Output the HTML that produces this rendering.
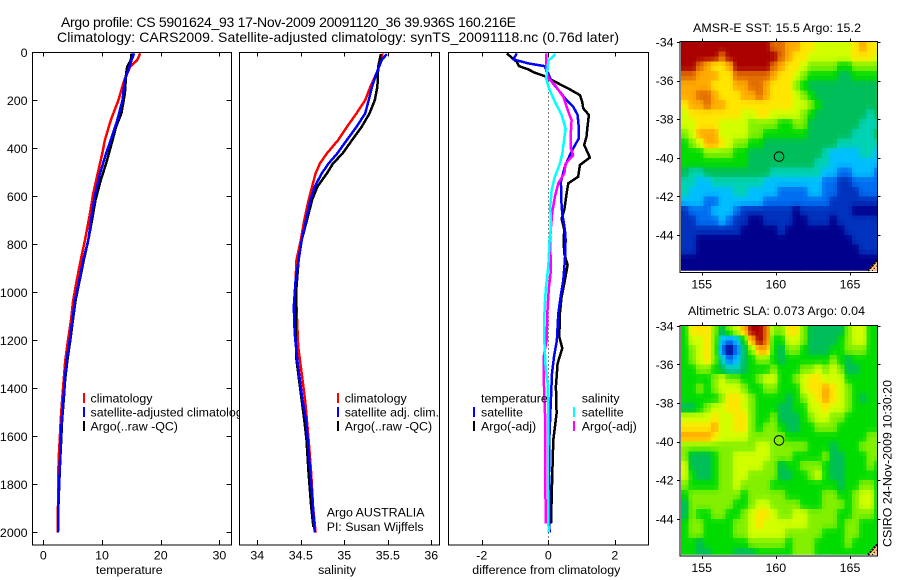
<!DOCTYPE html>
<html lang="en">
<head>
<meta charset="utf-8">
<title>Argo profile 5901624_93</title>
<style>
html,body{margin:0;padding:0;background:#fff;}
svg{display:block;font-family:"Liberation Sans",sans-serif;}
text{fill:#000;font-size:12.4px;}
.title{font-size:14px;}
</style>
</head>
<body>
<svg id="chart" xmlns="http://www.w3.org/2000/svg" width="900" height="580" viewBox="0 0 900 580">
<defs>
<clipPath id="sst-clip"><rect x="681" y="42" width="196.5" height="228.7"/></clipPath>
<clipPath id="sla-clip"><rect x="681" y="326" width="196.5" height="228.7"/></clipPath>
</defs>
<rect x="0" y="0" width="900" height="580" fill="#fff"/>
<text class="title" x="61" y="27" textLength="455">Argo profile: CS 5901624_93 17-Nov-2009 20091120_36 39.936S 160.216E</text>
<text class="title" x="57" y="42" textLength="562">Climatology: CARS2009. Satellite-adjusted climatology: synTS_20091118.nc (0.76d later)</text>
<g id="plots"></g>
<g id="overlay">
<text x="129.3" y="574" text-anchor="middle">temperature</text>
<text x="337" y="574" text-anchor="middle">salinity</text>
<text x="546.3" y="574" text-anchor="middle" textLength="148">difference from climatology</text>

<text x="693" y="32" textLength="168">AMSR-E SST: 15.5 Argo: 15.2</text>
<text x="688" y="315" textLength="177">Altimetric SLA: 0.073 Argo: 0.04</text>
<text transform="translate(891.7,547) rotate(-90)" textLength="167">CSIRO 24-Nov-2009 10:30:20</text>

<text x="326.7" y="516.7">Argo AUSTRALIA</text>
<text x="326.7" y="531">PI: Susan Wijffels</text>
</g>
</svg>
<script>
// ---- temperature panel data (degrees C vs depth in m) ----
const tempTicks = [0, 10, 20, 30];
const depthTicks = [0, 200, 400, 600, 800, 1000, 1200, 1400, 1600, 1800, 2000];
const tempClimDepth = [4, 32, 60, 115, 199, 282, 365, 421, 504, 588, 671, 782, 865, 949, 1032, 1115, 1199, 1282, 1365, 1449, 1532, 1615, 1699, 1782, 1893, 2000];
const tempClimValue = [16.5, 16.0, 14.8, 13.8, 12.8, 11.5, 10.5, 10.05, 9.27, 8.5, 7.95, 7.1, 6.37, 5.7, 5.1, 4.72, 4.2, 3.75, 3.47, 3.2, 2.96, 2.8, 2.6, 2.56, 2.5, 2.45];
const tempSatDepth = [4, 32, 60, 115, 199, 282, 365, 421, 504, 588, 671, 782, 865, 949, 1032, 1115, 1199, 1282, 1365, 1449, 1532, 1615, 1699, 1782, 1893, 2000];
const tempSatValue = [15.45, 15.05, 14.65, 13.9, 13.5, 12.6, 11.5, 10.7, 9.66, 8.86, 8.3, 7.67, 6.8, 6.14, 5.4, 4.95, 4.5, 3.98, 3.64, 3.4, 3.13, 3.0, 2.85, 2.73, 2.56, 2.5];
const tempArgoDepth = [4, 32, 60, 87, 171, 254, 310, 393, 463, 532, 615, 699, 782, 865, 949, 1032, 1115, 1199, 1282, 1365, 1449, 1532, 1615, 1699, 1782, 1893, 1963];
const tempArgoValue = [15.05, 14.9, 14.3, 14.1, 13.9, 13.3, 12.4, 11.5, 10.7, 9.8, 8.9, 8.3, 7.67, 6.9, 6.2, 5.5, 5.05, 4.6, 4.1, 3.72, 3.47, 3.2, 3.05, 2.88, 2.75, 2.58, 2.55];

// ---- salinity panel data (psu vs depth) ----
const salTicks = [34, 34.5, 35, 35.5, 36];
const salClimDepth = [4, 32, 87, 143, 199, 254, 310, 365, 421, 463, 504, 560, 615, 699, 782, 865, 949, 1060, 1227, 1338, 1449, 1532, 1615, 1754, 1893, 2000];
const salClimValue = [35.44, 35.43, 35.37, 35.30, 35.24, 35.14, 35.03, 34.93, 34.80, 34.72, 34.67, 34.63, 34.59, 34.54, 34.50, 34.45, 34.44, 34.45, 34.47, 34.51, 34.55, 34.57, 34.59, 34.62, 34.64, 34.67];
const salSatDepth = [7, 32, 87, 143, 199, 254, 310, 365, 421, 463, 504, 560, 615, 699, 782, 865, 949, 1060, 1171, 1282, 1365, 1449, 1532, 1615, 1754, 1893, 2000];
const salSatValue = [35.49, 35.43, 35.37, 35.32, 35.28, 35.24, 35.14, 35.03, 34.92, 34.82, 34.74, 34.66, 34.61, 34.56, 34.51, 34.475, 34.44, 34.42, 34.43, 34.46, 34.49, 34.52, 34.56, 34.58, 34.61, 34.64, 34.66];
const salArgoDepth = [7, 60, 143, 199, 254, 310, 365, 421, 463, 504, 560, 615, 699, 782, 865, 977, 1171, 1282, 1365, 1449, 1532, 1615, 1754, 1893, 1977];
const salArgoValue = [35.42, 35.39, 35.38, 35.35, 35.29, 35.20, 35.09, 34.98, 34.87, 34.80, 34.69, 34.63, 34.57, 34.51, 34.475, 34.45, 34.44, 34.45, 34.48, 34.51, 34.54, 34.565, 34.59, 34.62, 34.645];

// ---- difference panel data ----
const diffTicks = [-2, 0, 2];
const diffTempArgoDepth = [4, 39, 57, 71, 85, 99, 111, 129, 154, 178, 206, 233, 261, 310, 351, 386, 438, 469, 518, 546, 588, 657, 692, 740, 782, 838, 886, 949, 1018, 1088, 1185, 1233, 1296, 1393, 1504, 1615, 1754, 1963];
const diffTempArgoValue = [-1.25, -0.95, -0.88, -0.60, -0.40, -0.10, 0.05, 0.30, 0.65, 0.95, 1.02, 1.05, 1.22, 1.18, 1.15, 1.08, 1.25, 0.95, 0.90, 0.60, 0.55, 0.48, 0.40, 0.48, 0.46, 0.48, 0.58, 0.50, 0.40, 0.35, 0.33, 0.42, 0.28, 0.23, 0.25, 0.15, 0.12, 0.08];
const diffTempSatDepth = [4, 29, 46, 57, 88, 122, 164, 199, 226, 261, 317, 358, 400, 442, 483, 539, 643, 671, 740, 782, 865, 949, 1018, 1088, 1199, 1268, 1338, 1476, 1615, 1754, 1963, 2000];
const diffTempSatValue = [-0.95, -1.05, -0.60, -0.12, 0, 0.10, 0.35, 0.55, 0.75, 0.88, 0.92, 0.92, 0.75, 0.60, 0.48, 0.38, 0.40, 0.42, 0.50, 0.52, 0.50, 0.45, 0.37, 0.30, 0.26, 0.17, 0.11, 0.07, 0.03, 0.02, 0.03, 0.04];
const diffSalArgoDepth = [4, 74, 108, 136, 185, 247, 282, 351, 400, 428, 463, 504, 546, 601, 664, 726, 782, 907, 976, 1060, 1199, 1268, 1393, 1504, 1615, 1754, 1963];
const diffSalArgoValue = [-0.07, -0.07, 0, 0.20, 0.45, 0.60, 0.70, 0.67, 0.68, 0.75, 0.52, 0.48, 0.30, 0.20, 0.12, 0.08, 0.05, 0.08, 0.02, -0.02, -0.05, -0.14, -0.13, -0.10, -0.10, -0.10, -0.07];
const diffSalSatDepth = [7, 35, 67, 108, 150, 206, 261, 317, 358, 421, 463, 518, 574, 643, 726, 782, 893, 976, 1060, 1129, 1199, 1310, 1379, 1504, 1643, 1824, 2000];
const diffSalSatValue = [0.22, 0, -0.02, -0.07, 0.02, 0.20, 0.40, 0.52, 0.48, 0.42, 0.35, 0.20, 0.10, 0.06, 0.08, 0.04, 0, -0.07, -0.11, -0.12, -0.12, -0.08, -0.02, 0, -0.01, -0.01, 0.01];

// ---- maps: colour level per 0.5 degree cell, north row first ----
const lonTicks = [155, 160, 165];
const latTicks = [-34, -36, -38, -40, -42, -44];
const profileLon = 160.216;
const profileLat = -39.936;
const sstLevels = [
[12,12,12,12,12,12,12,12,12,12,12,12,11,11,10,10,9,9,8,8,8,8,8,9,10,9,9],
[12,12,12,12,12,11,12,12,12,12,12,12,12,11,10,9,9,8,8,8,8,8,8,9,9,9,8],
[12,12,11,10,9,9,10,12,12,12,12,12,11,10,9,9,8,7,7,7,7,6,6,7,7,7,7],
[11,11,10,10,10,9,9,11,11,11,11,11,10,9,9,8,7,6,6,6,6,5,5,6,6,6,6],
[10,10,10,10,9,9,9,10,10,11,11,10,9,9,9,7,6,5,5,5,5,5,5,5,5,5,5],
[10,10,11,11,10,9,9,9,10,10,11,10,9,9,9,8,7,6,5,5,5,5,5,5,5,5,5],
[9,10,10,11,10,10,9,9,9,9,9,9,9,9,9,8,8,7,6,5,5,5,5,5,5,5,5],
[8,9,9,9,9,9,9,9,8,8,9,9,8,8,8,8,7,6,5,5,5,5,5,5,5,4,5],
[8,8,9,9,9,8,8,8,8,7,7,7,7,6,6,7,7,5,5,5,5,5,5,5,4,4,4],
[7,8,10,10,10,8,8,8,8,7,7,6,6,6,6,6,6,5,5,5,5,5,5,4,4,4,5],
[6,7,8,10,10,9,8,7,7,6,6,5,5,5,5,5,5,5,5,5,5,4,4,4,4,4,4],
[6,6,6,7,7,7,7,6,6,5,5,5,5,5,5,5,5,5,5,4,3,3,3,3,4,4,3],
[6,6,6,6,6,6,6,6,6,5,5,5,5,5,5,5,5,5,4,4,3,3,3,3,3,3,3],
[5,4,4,5,5,5,5,5,5,5,5,5,4,4,4,4,4,4,4,3,3,2,2,3,3,3,2],
[4,4,3,3,4,4,4,4,4,4,4,3,3,3,3,3,3,3,3,2,2,1,1,2,2,2,2],
[4,3,3,3,3,3,3,4,4,3,3,3,3,2,2,2,2,3,3,2,2,1,1,1,2,2,2],
[3,3,3,2,2,3,3,3,3,3,3,2,2,2,2,2,2,2,2,2,1,1,1,1,1,1,1],
[1,2,2,2,3,3,3,2,1,1,1,1,1,1,1,0,1,1,1,1,1,1,1,0,0,0,0],
[1,1,2,2,2,3,2,1,1,0,0,1,1,1,1,0,0,1,1,1,0,1,1,1,1,1,1],
[1,1,1,1,1,1,1,1,0,0,0,0,0,1,0,0,0,0,0,0,0,0,1,1,1,1,1],
[1,1,0,0,0,0,0,0,0,0,0,0,0,0,0,0,0,0,0,0,0,0,0,1,1,1,1],
[1,1,0,0,0,0,0,0,0,0,0,0,0,0,0,0,0,0,0,0,0,0,0,0,1,1,1],
[0,0,0,0,0,0,0,0,0,0,0,0,0,0,0,0,0,0,0,0,0,0,0,0,0,0,0],
[0,0,0,0,0,0,0,0,0,0,0,0,0,0,0,0,0,0,0,0,0,0,0,0,0,0,0]
];
const slaLevels = [
[6,9,9,9,7,5,7,8,10,12,12,11,7,7,9,9,7,5,5,5,5,5,7,8,8,6,6],
[6,8,8,9,7,3,2,3,6,10,12,11,6,6,8,8,7,5,5,5,5,6,7,8,8,6,6],
[6,7,8,9,7,2,0,2,5,7,10,10,6,5,7,7,6,5,5,5,6,6,7,7,7,6,6],
[6,7,8,9,7,4,2,3,5,6,7,7,6,5,6,6,6,6,6,6,7,6,5,6,6,6,6],
[6,6,7,7,6,5,4,4,5,6,6,6,7,6,6,6,7,7,8,7,8,7,5,5,6,6,6],
[6,6,6,6,7,8,7,7,6,6,7,8,8,6,6,7,8,9,9,8,8,8,6,6,6,6,6],
[6,6,7,6,7,8,8,8,7,6,6,7,7,6,6,6,8,9,9,10,9,8,7,6,6,6,6],
[6,6,6,6,6,7,9,9,8,7,6,6,6,6,5,6,7,8,9,10,9,8,7,6,5,6,6],
[5,5,6,7,8,8,9,9,8,7,6,6,6,5,5,6,6,8,8,9,8,8,7,6,6,6,6],
[8,8,8,8,9,8,8,9,9,7,6,6,7,5,5,5,6,7,8,8,7,7,6,6,6,6,6],
[9,9,9,9,10,8,8,9,9,7,6,7,7,6,5,5,6,6,7,7,7,6,6,6,6,6,6],
[10,10,10,10,9,8,8,8,8,7,7,7,7,7,6,6,6,6,6,6,6,6,6,6,6,7,7],
[7,7,7,7,7,7,7,7,7,7,8,8,7,7,7,7,7,6,6,6,5,6,6,6,7,7,7],
[7,5,5,5,6,7,7,8,8,8,8,8,7,7,7,6,6,6,6,7,5,5,6,6,6,7,7],
[8,5,5,5,6,7,7,8,8,8,8,7,7,5,6,6,7,7,7,6,5,5,6,6,6,7,6],
[8,6,5,5,6,7,7,8,8,7,7,7,7,5,5,6,6,7,8,6,5,5,6,6,6,6,6],
[7,6,6,6,6,7,7,8,7,7,7,7,6,6,6,6,6,6,6,6,6,5,6,6,7,7,6],
[6,7,7,7,7,7,7,7,6,7,7,7,7,7,6,6,6,6,6,7,7,6,6,7,8,8,6],
[5,7,7,7,7,7,7,6,6,7,8,8,7,7,7,7,6,6,6,7,7,7,6,7,8,8,6],
[5,7,6,6,7,7,6,6,7,8,9,9,8,7,7,8,8,7,7,7,7,6,6,7,7,7,6],
[6,7,7,6,6,6,6,7,7,8,9,8,8,8,8,8,8,7,7,7,7,6,7,7,6,6,6],
[6,7,7,6,6,6,6,7,7,8,8,8,8,8,7,7,7,7,7,6,6,6,7,7,6,6,6],
[6,6,5,6,6,6,6,6,6,7,7,7,7,7,6,7,7,7,6,6,6,6,7,6,6,6,6],
[6,6,5,5,6,6,6,5,5,5,6,6,6,6,6,7,7,7,6,6,6,6,6,6,6,6,6]
];

// ---- styling and axis helpers ----
const SVGNS = 'http://www.w3.org/2000/svg';
const paletteRgb = [[0,0,140],[0,50,190],[0,110,240],[0,190,255],[0,210,180],[0,190,90],[0,220,0],[130,240,0],[210,255,0],[255,230,0],[255,170,0],[225,110,0],[170,0,0]];
const plots = document.getElementById('plots');
const overlay = document.getElementById('overlay');

function make(tag, parent) {
  const el = document.createElementNS(SVGNS, tag);
  parent.appendChild(el);
  return el;
}
function depthY(d) { return 52.4 + d * 0.24; }
function tempX(v) { return 43.3 + v * 5.87; }
function salX(v) { return 257.3 + (v - 34) * 87; }
function diffX(v) { return 548.3 + v * 33.25; }
function mapX(lon) { return 701.7 + (lon - 155) * 14.83; }
function sstY(lat) { return 42 + (-34 - lat) * 19.3; }
function slaY(lat) { return 325.8 + (-34 - lat) * 19.3; }

function levelColor(level) {
  const i = Math.max(0, Math.min(paletteRgb.length - 2, Math.floor(level)));
  const f = Math.max(0, Math.min(1, level - i));
  const a = paletteRgb[i];
  const b = paletteRgb[i + 1];
  return 'rgb(' + Math.round(a[0] + (b[0] - a[0]) * f) + ',' + Math.round(a[1] + (b[1] - a[1]) * f) + ',' + Math.round(a[2] + (b[2] - a[2]) * f) + ')';
}
function ease(t) { return t * t * (3 - 2 * t); }
function sampleLevel(levels, r, c) {
  const rr = Math.max(0, Math.min(levels.length - 1, r));
  const r0 = Math.floor(rr);
  const r1 = Math.min(levels.length - 1, r0 + 1);
  const fr = ease(rr - r0);
  const cc = Math.max(0, Math.min(levels[0].length - 1, c));
  const c0 = Math.floor(cc);
  const c1 = Math.min(levels[0].length - 1, c0 + 1);
  const fc = ease(cc - c0);
  const top = levels[r0][c0] * (1 - fc) + levels[r0][c1] * fc;
  const bot = levels[r1][c0] * (1 - fc) + levels[r1][c1] * fc;
  return top * (1 - fr) + bot * fr;
}

function seg(parent, x1, y1, x2, y2, name) {
  const el = make('line', parent);
  
  
  el.setAttribute('x1', x1);
  el.setAttribute('y1', y1);
  el.setAttribute('x2', x2);
  el.setAttribute('y2', y2);
  el.setAttribute('stroke', '#000');
  el.setAttribute('stroke-width', '1');
  el.setAttribute('shape-rendering', 'crispEdges');
  return el;
}
function label(parent, x, y, str, anchor, name) {
  const el = make('text', parent);
  
  
  el.setAttribute('x', x);
  el.setAttribute('y', y);
  el.setAttribute('text-anchor', anchor);
  el.textContent = str;
  return el;
}
function box(parent, x, y, w, h, name) {
  const el = make('rect', parent);
  
  
  el.setAttribute('x', x);
  el.setAttribute('y', y);
  el.setAttribute('width', w);
  el.setAttribute('height', h);
  el.setAttribute('fill', 'none');
  el.setAttribute('stroke', '#000');
  el.setAttribute('stroke-width', '1');
  el.setAttribute('shape-rendering', 'crispEdges');
  return el;
}
function panelBackground(x, y, w, h, name) {
  const el = make('rect', plots);
  
  
  el.setAttribute('x', x);
  el.setAttribute('y', y);
  el.setAttribute('width', w);
  el.setAttribute('height', h);
  el.setAttribute('fill', '#fff');
  return el;
}
function profile(parent, scale, depths, values, color, name) {
  const el = make('polyline', parent);
  
  
  el.setAttribute('points', values.map(function (v, i) {
    return scale(v).toFixed(1) + ',' + depthY(depths[i]).toFixed(1);
  }).join(' '));
  el.setAttribute('fill', 'none');
  el.setAttribute('stroke', color);
  el.setAttribute('stroke-width', '2.5');
  el.setAttribute('stroke-linejoin', 'round');
  el.setAttribute('shape-rendering', 'crispEdges');
  return el;
}
function swatch(parent, x, y, color, name) {
  const el = make('rect', parent);
  
  
  el.setAttribute('x', x);
  el.setAttribute('y', y);
  el.setAttribute('width', 2);
  el.setAttribute('height', 10);
  el.setAttribute('fill', color);
  return el;
}
function panelFrame(left, right, scale, ticks, hasDepthTicks, prefix) {
  const top = 52.5;
  const bottom = 545;
  box(plots, left, top, right - left, bottom - top, prefix + '-axes-box');
  ticks.forEach(function (t) {
    const x = Math.round(scale(t)) + 0.5;
    seg(plots, x, top, x, top + 4, prefix + '-top-tick');
    seg(plots, x, bottom, x, bottom - 5, prefix + '-bottom-tick');
    label(plots, scale(t), 559.5, String(t), 'middle', prefix + '-x-tick-label');
  });
  if (hasDepthTicks) {
    depthTicks.forEach(function (d) {
      const y = Math.round(depthY(d)) + 0.5;
      if (d > 0) {
        seg(plots, left, y, left + 5, y, prefix + '-left-tick');
        seg(plots, right, y, right - 5, y, prefix + '-right-tick');
      }
      label(plots, 27.5, depthY(d) + 4.5, String(d), 'end', 'depth-tick-label');
    });
  }
}

// ---- panel 1: temperature ----
panelBackground(32.5, 52.5, 199, 492.5, 'temperature-panel-background');
profile(plots, tempX, tempClimDepth, tempClimValue, '#ff0000', 'temperature-climatology-line');
profile(plots, tempX, tempArgoDepth, tempArgoValue, '#000000', 'temperature-argo-line');
profile(plots, tempX, tempSatDepth, tempSatValue, '#0000ff', 'temperature-satellite-line');
panelFrame(32.5, 231.5, tempX, tempTicks, true, 'temperature');
swatch(plots, 83, 393, '#ff0000', 'legend-swatch-climatology');
swatch(plots, 83, 407, '#0000ff', 'legend-swatch-satellite-adjusted');
swatch(plots, 83, 421, '#000000', 'legend-swatch-argo');
label(plots, 90.5, 402.3, 'climatology', 'start', 'legend-entry-climatology');
label(plots, 90.5, 416.3, 'satellite-adjusted climatology', 'start', 'legend-entry-satellite-adjusted');
label(plots, 90.5, 430.3, 'Argo(..raw -QC)', 'start', 'legend-entry-argo');

// ---- panel 2: salinity (its background clips the long legend entry) ----
panelBackground(239.5, 50, 200, 497, 'salinity-panel-background');
profile(plots, salX, salClimDepth, salClimValue, '#ff0000', 'salinity-climatology-line');
profile(plots, salX, salArgoDepth, salArgoValue, '#000000', 'salinity-argo-line');
profile(plots, salX, salSatDepth, salSatValue, '#0000ff', 'salinity-satellite-line');
panelFrame(239.5, 439.5, salX, salTicks, false, 'salinity');
swatch(plots, 337, 393, '#ff0000', 'salinity-legend-swatch-climatology');
swatch(plots, 337, 407, '#0000ff', 'salinity-legend-swatch-satellite');
swatch(plots, 337, 421, '#000000', 'salinity-legend-swatch-argo');
label(plots, 344.7, 402.3, 'climatology', 'start', 'salinity-legend-entry-climatology');
label(plots, 344.7, 416.3, 'satellite adj. clim.', 'start', 'salinity-legend-entry-satellite');
label(plots, 344.7, 430.3, 'Argo(..raw -QC)', 'start', 'salinity-legend-entry-argo');

// ---- panel 3: differences ----
panelBackground(448.5, 50, 200, 497, 'difference-panel-background');
const zeroLine = seg(plots, 548.5, 52.5, 548.5, 545, 'zero-reference-line');
zeroLine.setAttribute('stroke-dasharray', '1 3');
profile(plots, diffX, diffTempArgoDepth, diffTempArgoValue, '#000000', 'difference-temperature-argo-line');
profile(plots, diffX, diffTempSatDepth, diffTempSatValue, '#0000ff', 'difference-temperature-satellite-line');
profile(plots, diffX, diffSalArgoDepth, diffSalArgoValue, '#ff00ff', 'difference-salinity-argo-line');
profile(plots, diffX, diffSalSatDepth, diffSalSatValue, '#00ffff', 'difference-salinity-satellite-line');
panelFrame(448.5, 648.5, diffX, diffTicks, false, 'difference');
swatch(plots, 473, 407, '#0000ff', 'difference-legend-swatch-temperature-satellite');
swatch(plots, 473, 421, '#000000', 'difference-legend-swatch-temperature-argo');
swatch(plots, 573, 407, '#00ffff', 'difference-legend-swatch-salinity-satellite');
swatch(plots, 573, 421, '#ff00ff', 'difference-legend-swatch-salinity-argo');
label(plots, 481, 402.3, 'temperature', 'start', 'difference-legend-heading-temperature');
label(plots, 481, 416.3, 'satellite', 'start', 'difference-legend-entry-temperature-satellite');
label(plots, 481, 430.3, 'Argo(-adj)', 'start', 'difference-legend-entry-temperature-argo');
label(plots, 581.7, 402.3, 'salinity', 'start', 'difference-legend-heading-salinity');
label(plots, 581.7, 416.3, 'satellite', 'start', 'difference-legend-entry-salinity-satellite');
label(plots, 581.7, 430.3, 'Argo(-adj)', 'start', 'difference-legend-entry-salinity-argo');

// ---- map panels: each 0.25 degree pixel colours from the surrounding level cells ----
function drawMap(levels, yScale, clipId, top, bottom, prefix) {
  const group = make('g', plots);
  
  
  group.setAttribute('clip-path', 'url(#' + clipId + ')');
  const lon0 = 153.62;
  const rows = levels.length * 2;
  const cols = levels[0].length * 2;
  for (let r = 0; r < rows; r++) {
    for (let c = 0; c < cols; c++) {
      const lon = lon0 + c * 0.25;
      const lat = -34 - r * 0.25;
      const cell = make('rect', group);
      
      
      cell.setAttribute('x', mapX(lon).toFixed(2));
      cell.setAttribute('y', yScale(lat).toFixed(2));
      cell.setAttribute('width', (0.25 * 14.83 + 0.4).toFixed(2));
      cell.setAttribute('height', (0.25 * 19.3 + 0.4).toFixed(2));
      cell.setAttribute('fill', levelColor(sampleLevel(levels, (r - 0.5) / 2, (c - 0.5) / 2)));
      cell.setAttribute('shape-rendering', 'crispEdges');
    }
  }
  // coastline/land corner
  const yb = top + 228.9;
  const land = make('polygon', plots);
  
  
  land.setAttribute('points', '868,' + yb + ' 877.5,' + (yb - 11) + ' 877.5,' + yb);
  land.setAttribute('fill', '#ffbf80');
  const coast = seg(plots, 868, yb, 877.5, yb - 11, prefix + '-coastline');
  coast.setAttribute('stroke-width', '2');
  coast.setAttribute('stroke-dasharray', '2 1');
  const coast2 = seg(plots, 872, yb, 877.5, yb - 6, prefix + '-coastline-inner');
  coast2.setAttribute('stroke-dasharray', '1 2');

  box(plots, 680, top - 0.5, 197.5, bottom - top + 0.5, prefix + '-map-box');
  lonTicks.forEach(function (lon) {
    const x = Math.round(mapX(lon)) + 0.5;
    seg(plots, x, top - 0.5, x, top - 3.5, prefix + '-top-tick');
    seg(plots, x, bottom, x, bottom + 3, prefix + '-bottom-tick');
    label(plots, mapX(lon), bottom + 16, String(lon), 'middle', prefix + '-lon-tick-label');
  });
  latTicks.forEach(function (lat) {
    const y = Math.round(yScale(lat)) + 0.5;
    seg(plots, 680, y, 677, y, prefix + '-left-tick');
    seg(plots, 877.5, y, 880.5, y, prefix + '-right-tick');
    label(plots, 673.5, yScale(lat) + 4.5, String(lat), 'end', prefix + '-lat-tick-label');
  });
  const marker = make('circle', plots);
  
  
  marker.setAttribute('cx', mapX(profileLon));
  marker.setAttribute('cy', yScale(profileLat));
  marker.setAttribute('r', 4.8);
  marker.setAttribute('fill', 'none');
  marker.setAttribute('stroke', '#000');
  marker.setAttribute('stroke-width', '1');
}
drawMap(sstLevels, sstY, 'sst-clip', 42, 272.5, 'sst');
drawMap(slaLevels, slaY, 'sla-clip', 326, 556, 'sla');

// keep static labels above the plotted layer
document.getElementById('chart').appendChild(overlay);
</script>
</body>
</html>
